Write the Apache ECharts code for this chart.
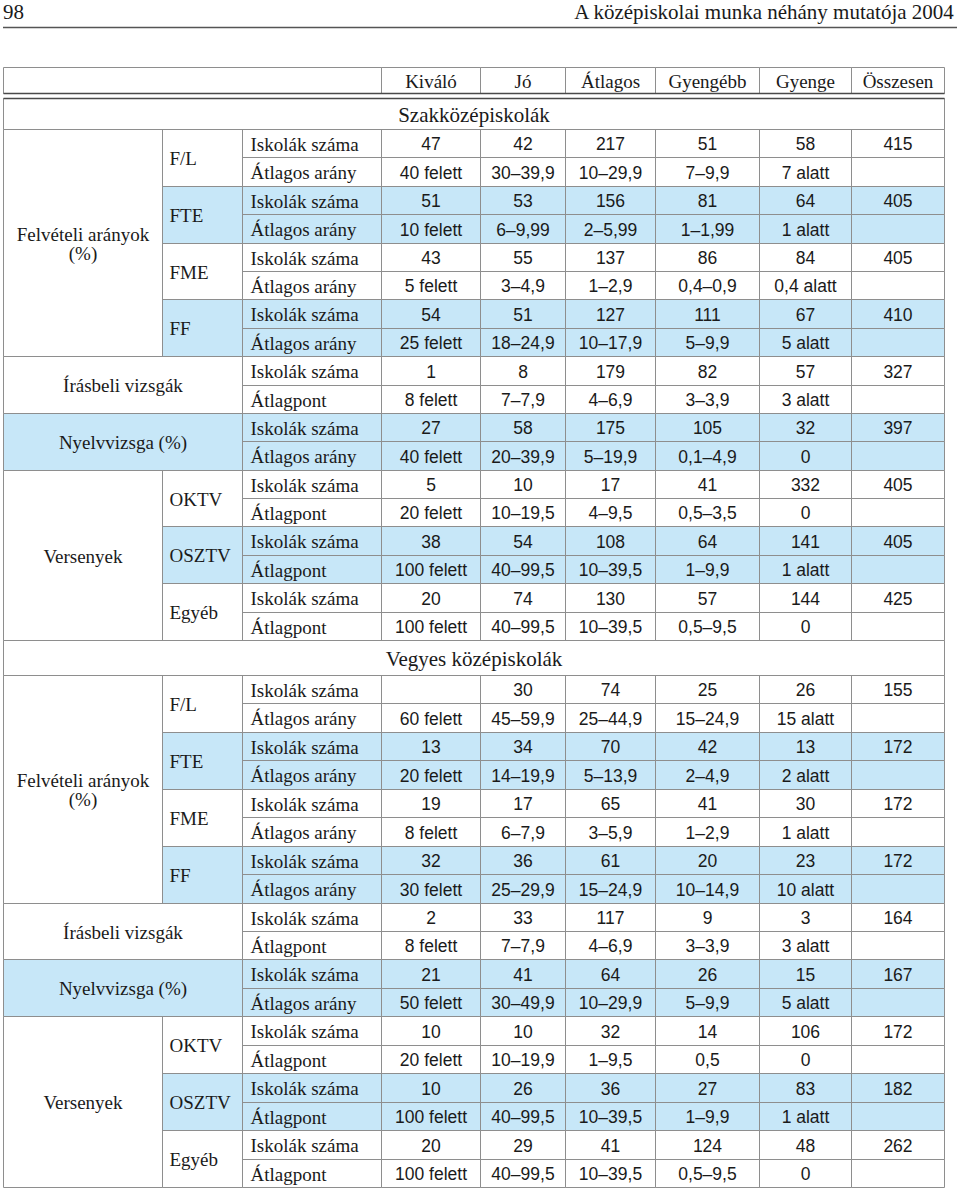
<!DOCTYPE html>
<html><head><meta charset="utf-8">
<script src="https://cdn.jsdelivr.net/npm/echarts@6/dist/echarts.min.js"></script>
<style>html,body{margin:0;padding:0;background:#fff}#c{width:960px;height:1189px}</style>
</head><body><div id="c"></div>
<script>
// ---------- DATA ----------
const pageNumber = '98';
const pageTitle = 'A középiskolai munka néhány mutatója 2004';
const columns = ['Kiváló', 'Jó', 'Átlagos', 'Gyengébb', 'Gyenge', 'Összesen'];
const sections = ['Szakközépiskolák', 'Vegyes középiskolák'];
// main groups shown in the first column (index ranges of items)
const groupLabels = ['Felvételi arányok\n(%)', 'Versenyek'];
const groupItems = [[0, 3], [6, 8]];
// items (pairs of rows); merged items span the first two columns
const items = ['F/L', 'FTE', 'FME', 'FF', 'Írásbeli vizsgák', 'Nyelvvizsga (%)', 'OKTV', 'OSZTV', 'Egyéb'];
const itemMerged = [false, false, false, false, true, true, false, false, false];
const countLabel = 'Iskolák száma';
const valueLabels = ['Átlagos arány', 'Átlagos arány', 'Átlagos arány', 'Átlagos arány', 'Átlagpont', 'Átlagos arány', 'Átlagpont', 'Átlagpont', 'Átlagpont'];

const szakCounts = [
  [47, 42, 217, 51, 58, 415],
  [51, 53, 156, 81, 64, 405],
  [43, 55, 137, 86, 84, 405],
  [54, 51, 127, 111, 67, 410],
  [1, 8, 179, 82, 57, 327],
  [27, 58, 175, 105, 32, 397],
  [5, 10, 17, 41, 332, 405],
  [38, 54, 108, 64, 141, 405],
  [20, 74, 130, 57, 144, 425]
];
const szakRanges = [
  ['40 felett', '30–39,9', '10–29,9', '7–9,9', '7 alatt', ''],
  ['10 felett', '6–9,99', '2–5,99', '1–1,99', '1 alatt', ''],
  ['5 felett', '3–4,9', '1–2,9', '0,4–0,9', '0,4 alatt', ''],
  ['25 felett', '18–24,9', '10–17,9', '5–9,9', '5 alatt', ''],
  ['8 felett', '7–7,9', '4–6,9', '3–3,9', '3 alatt', ''],
  ['40 felett', '20–39,9', '5–19,9', '0,1–4,9', '0', ''],
  ['20 felett', '10–19,5', '4–9,5', '0,5–3,5', '0', ''],
  ['100 felett', '40–99,5', '10–39,5', '1–9,9', '1 alatt', ''],
  ['100 felett', '40–99,5', '10–39,5', '0,5–9,5', '0', '']
];
const vegyesCounts = [
  [null, 30, 74, 25, 26, 155],
  [13, 34, 70, 42, 13, 172],
  [19, 17, 65, 41, 30, 172],
  [32, 36, 61, 20, 23, 172],
  [2, 33, 117, 9, 3, 164],
  [21, 41, 64, 26, 15, 167],
  [10, 10, 32, 14, 106, 172],
  [10, 26, 36, 27, 83, 182],
  [20, 29, 41, 124, 48, 262]
];
const vegyesRanges = [
  ['60 felett', '45–59,9', '25–44,9', '15–24,9', '15 alatt', ''],
  ['20 felett', '14–19,9', '5–13,9', '2–4,9', '2 alatt', ''],
  ['8 felett', '6–7,9', '3–5,9', '1–2,9', '1 alatt', ''],
  ['30 felett', '25–29,9', '15–24,9', '10–14,9', '10 alatt', ''],
  ['8 felett', '7–7,9', '4–6,9', '3–3,9', '3 alatt', ''],
  ['50 felett', '30–49,9', '10–29,9', '5–9,9', '5 alatt', ''],
  ['20 felett', '10–19,9', '1–9,5', '0,5', '0', ''],
  ['100 felett', '40–99,5', '10–39,5', '1–9,9', '1 alatt', ''],
  ['100 felett', '40–99,5', '10–39,5', '0,5–9,5', '0', '']
];

// ---------- LAYOUT ----------
const L = {
  cols: [3, 162, 242, 381, 480, 565, 655, 759, 851, 944],
  top: 67, headH: 26, gap: 5, secH: [31, 35], rowH: [28.39, 28.44]
};
const BLUE = '#c7e7f8', LINE = '#8e8e8e', DARK = '#4a4a4a', INK = '#1a1a1a';
const FONTS = {
  serif: '19px "Liberation Serif", serif',
  sec: '21px "Liberation Serif", serif',
  sans: '17.5px "Liberation Sans", Arial, sans-serif'
};

const cells = [];
function add(x0, x1, y0, y1, text, opt) { cells.push(Object.assign({ x0, x1, y0, y1, text, fill: null, font: 'serif', align: 'center' }, opt || {})); }
const C = L.cols;
let y = L.top;
add(C[0], C[3], y, y + L.headH, '');
columns.forEach((c, i) => add(C[3 + i], C[4 + i], y, y + L.headH, c, { font: 'serif' }));
const rules = [y + L.headH];
y += L.headH + L.gap;
rules.push(y);
const secData = [[szakCounts, szakRanges], [vegyesCounts, vegyesRanges]];
sections.forEach((s, si) => {
  add(C[0], C[9], y, y + L.secH[si], s, { font: 'sec' });
  y += L.secH[si];
  const rh = L.rowH[si];
  const [counts, ranges] = secData[si];
  groupLabels.forEach((g, gi) => {
    const [a, b] = groupItems[gi];
    add(C[0], C[1], y + a * 2 * rh, y + (b + 1) * 2 * rh, g, {});
  });
  items.forEach((it, ii) => {
    const fill = ii % 2 === 1 ? BLUE : null;
    const yy = y + ii * 2 * rh;
    if (itemMerged[ii]) add(C[0], C[2], yy, yy + 2 * rh, it, { fill });
    else add(C[1], C[2], yy, yy + 2 * rh, it, { fill, align: 'left', pad: 7 });
    add(C[2], C[3], yy, yy + rh, countLabel, { fill, align: 'left', pad: 8 });
    add(C[2], C[3], yy + rh, yy + 2 * rh, valueLabels[ii], { fill, align: 'left', pad: 8 });
    counts[ii].forEach((v, ci) => add(C[3 + ci], C[4 + ci], yy, yy + rh, v == null ? '' : String(v), { fill, font: 'sans' }));
    ranges[ii].forEach((v, ci) => add(C[3 + ci], C[4 + ci], yy + rh, yy + 2 * rh, v, { fill, font: 'sans' }));
  });
  y += items.length * 2 * rh;
});

const crisp = v => Math.round(v) + 0.5;
const cellData = cells.map(c => [c.x0, c.y0, c.x1, c.y1]);

function rectOf(api) {
  const p0 = api.coord([api.value(0), api.value(1)]);
  const p1 = api.coord([api.value(2), api.value(3)]);
  return { x0: crisp(p0[0]), y0: crisp(p0[1]), x1: crisp(p1[0]), y1: crisp(p1[1]) };
}

const chart = echarts.init(document.getElementById('c'), null, { renderer: 'svg' });
chart.setOption({
  animation: false,
  backgroundColor: '#fff',
  title: [
    { text: pageNumber, left: 3, top: 1, padding: 0, textStyle: { fontFamily: 'Liberation Serif', fontSize: 21, fontWeight: 'normal', color: INK } },
    { text: pageTitle, right: 5, top: 1, padding: 0, textStyle: { fontFamily: 'Liberation Serif', fontSize: 21, fontWeight: 'normal', color: INK } }
  ],
  graphic: [{ type: 'line', shape: { x1: 3, y1: 27.5, x2: 957, y2: 27.5 }, style: { stroke: '#555', lineWidth: 1.5 } }],
  grid: { left: 0, right: 0, top: 0, bottom: 0 },
  xAxis: { type: 'value', min: 0, max: 960, show: false },
  yAxis: { type: 'value', min: 0, max: 1189, inverse: true, show: false },
  series: [
    {
      type: 'custom', clip: false, silent: true, data: cellData, encode: { x: [0, 2], y: [1, 3] },
      renderItem(params, api) {
        const c = cells[params.dataIndex];
        if (!c.fill) return null;
        const r = rectOf(api);
        return { type: 'rect', shape: { x: r.x0, y: r.y0, width: r.x1 - r.x0, height: r.y1 - r.y0 }, style: { fill: c.fill } };
      }
    },
    {
      type: 'custom', clip: false, silent: true, data: cellData, encode: { x: [0, 2], y: [1, 3] },
      renderItem(params, api) {
        const c = cells[params.dataIndex];
        const r = rectOf(api);
        const children = [{ type: 'rect', shape: { x: r.x0, y: r.y0, width: r.x1 - r.x0, height: r.y1 - r.y0 }, style: { fill: null, stroke: LINE, lineWidth: 1 } }];
        if (c.text) {
          const tx = c.align === 'left' ? r.x0 + c.pad : (r.x0 + r.x1) / 2;
          children.push({
            type: 'text',
            style: { text: c.text, x: tx, y: (r.y0 + r.y1) / 2 + 0.5, font: FONTS[c.font], fill: INK, align: c.align, verticalAlign: 'middle', lineHeight: 19 }
          });
        }
        return { type: 'group', children };
      }
    },
    {
      type: 'custom', clip: false, silent: true, data: rules.map(v => [C[0], v, C[9], v]), encode: { x: [0, 2], y: [1, 3] },
      renderItem(params, api) {
        const r = rectOf(api);
        return { type: 'line', shape: { x1: r.x0, y1: r.y0, x2: r.x1, y2: r.y0 }, style: { stroke: DARK, lineWidth: 1.3 } };
      }
    }
  ]
});
</script></body></html>
